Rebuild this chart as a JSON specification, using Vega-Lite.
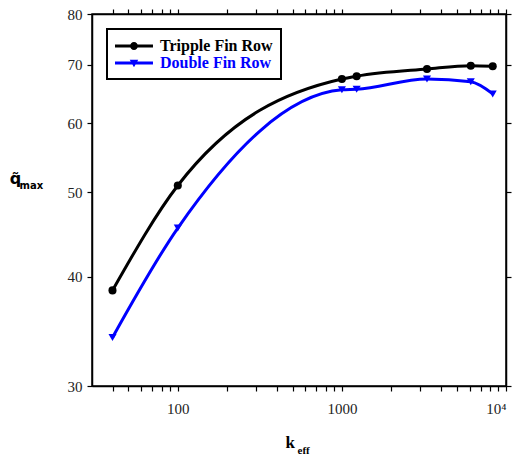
{
  "$schema": "https://vega.github.io/schema/vega-lite/v6.json",
  "width": 414,
  "height": 372,
  "autosize": {"type": "none"},
  "padding": {"left": 92, "top": 14, "right": 10, "bottom": 71},
  "background": "white",
  "config": {
    "view": {"stroke": "black", "strokeWidth": 1.5},
    "axis": {
      "grid": false,
      "domainColor": "black",
      "domainWidth": 1.5,
      "tickColor": "black",
      "tickWidth": 1.2,
      "tickSize": 5,
      "zindex": 1,
      "labelFont": "Liberation Serif",
      "labelFontSize": 15,
      "labelColor": "#222222",
      "titleColor": "black"
    },
    "legend": {
      "orient": "top-left",
      "offset": 15,
      "strokeColor": "black",
      "fillColor": "white",
      "padding": 8,
      "labelFont": "Liberation Serif",
      "labelFontSize": 16,
      "labelFontWeight": "bold",
      "symbolSize": 324,
      "symbolStrokeWidth": 0,
      "labelOffset": 27,
      "rowPadding": 0
    }
  },
  "data": {
    "values": [
      {"k": 40, "q": 38.6, "series": "Tripple Fin Row"},
      {"k": 100, "q": 50.9, "series": "Tripple Fin Row"},
      {"k": 1000, "q": 67.4, "series": "Tripple Fin Row"},
      {"k": 1230, "q": 67.9, "series": "Tripple Fin Row"},
      {"k": 3300, "q": 69.2, "series": "Tripple Fin Row"},
      {"k": 6100, "q": 69.8, "series": "Tripple Fin Row"},
      {"k": 8300, "q": 69.7, "series": "Tripple Fin Row"},
      {"k": 40, "q": 34.1, "series": "Double Fin Row"},
      {"k": 100, "q": 45.5, "series": "Double Fin Row"},
      {"k": 1000, "q": 65.5, "series": "Double Fin Row"},
      {"k": 1230, "q": 65.6, "series": "Double Fin Row"},
      {"k": 3300, "q": 67.4, "series": "Double Fin Row"},
      {"k": 6100, "q": 66.9, "series": "Double Fin Row"},
      {"k": 8300, "q": 64.8, "series": "Double Fin Row"}
    ]
  },
  "layer": [
    {
      "mark": {"type": "line", "interpolate": "monotone", "strokeWidth": 3},
      "encoding": {
        "x": {
          "field": "k", "type": "quantitative",
          "scale": {"type": "log", "domain": [30, 10000]},
          "axis": {
            "orient": "bottom",
            "values": [40,50,60,70,80,90,100,200,300,400,500,600,700,800,900,1000,2000,3000,4000,5000,6000,7000,8000,9000,10000],
            "labelExpr": "datum.value == 100 ? '100' : datum.value == 1000 ? '1000' : datum.value == 10000 ? '10⁴' : ''",
            "labelFont": "Liberation Serif",
            "labelPadding": 10,
            "encode": {"ticks": {"update": {"y2": {"signal": "(datum.value == 100 || datum.value == 1000 || datum.value == 10000) ? -8 : -4"}}}},
            "title": "k",
            "titleFont": "Liberation Serif",
            "titleFontWeight": "bold",
            "titleFontSize": 17,
            "titleAlign": "left",
            "titleBaseline": "alphabetic",
            "titleX": 193,
            "titleY": 61
          }
        },
        "y": {
          "field": "q", "type": "quantitative",
          "scale": {"type": "log", "domain": [30, 80]},
          "axis": {
            "orient": "left",
            "values": [30, 40, 50, 60, 70, 80],
            "format": "d",
            "labelFont": "Liberation Serif",
            "labelPadding": 5,
            "encode": {"ticks": {"update": {"x2": {"value": 6}}}},
            "title": "q̃",
            "titleFont": "DejaVu Sans",
            "titleFontWeight": "bold",
            "titleFontSize": 16,
            "titleAngle": 0,
            "titleAlign": "center",
            "titleBaseline": "alphabetic",
            "titleX": -77,
            "titleY": 169
          }
        },
        "color": {
          "field": "series", "type": "nominal",
          "scale": {"domain": ["Tripple Fin Row", "Double Fin Row"], "range": ["black", "#0000ff"]},
          "legend": {
            "title": null,
            "symbolType": "M-1,-0.17L3.22,-0.17L3.22,0.17L-1,0.17Z M1.55,0A0.44,0.44,0,1,1,0.67,0A0.44,0.44,0,1,1,1.55,0Z",
            "encode": {
              "legend": {"update": {"strokeWidth": {"value": 2}}},
              "symbols": {
                "update": {
                  "shape": {"signal": "datum.value === 'Tripple Fin Row' ? 'M-1,-0.17L3.22,-0.17L3.22,0.17L-1,0.17Z M1.55,0A0.44,0.44,0,1,1,0.67,0A0.44,0.44,0,1,1,1.55,0Z' : 'M-1,-0.17L3.22,-0.17L3.22,0.17L-1,0.17Z M0.64,-0.36L1.58,-0.36L1.11,0.46Z'"},
                  "fill": {"signal": "datum.value === 'Tripple Fin Row' ? 'black' : '#0000ff'"},
                  "stroke": {"value": "transparent"},
                  "strokeWidth": {"value": 0},
                  "opacity": {"value": 1}
                }
              },
              "labels": {
                "update": {
                  "fill": {"signal": "datum.value === 'Tripple Fin Row' ? 'black' : '#0000ff'"}
                }
              }
            }
          }
        }
      }
    },
    {
      "transform": [{"filter": "datum.series === 'Tripple Fin Row'"}],
      "mark": {"type": "point", "filled": true, "size": 65, "opacity": 1, "shape": "circle", "color": "black"},
      "encoding": {
        "x": {
          "field": "k", "type": "quantitative",
          "scale": {"type": "log", "domain": [30, 10000]},
          "axis": {
            "orient": "top",
            "values": [40,50,60,70,80,90,100,200,300,400,500,600,700,800,900,1000,2000,3000,4000,5000,6000,7000,8000,9000,10000],
            "labels": false,
            "encode": {"ticks": {"update": {"y2": {"signal": "(datum.value == 100 || datum.value == 1000 || datum.value == 10000) ? 8 : 4"}}}},
            "title": "eff",
            "titleFont": "Liberation Serif",
            "titleFontWeight": "bold",
            "titleFontSize": 11,
            "titleAlign": "left",
            "titleBaseline": "alphabetic",
            "titleX": 205,
            "titleY": 439
          }
        },
        "y": {
          "field": "q", "type": "quantitative",
          "scale": {"type": "log", "domain": [30, 80]},
          "axis": {
            "orient": "right",
            "values": [30, 40, 50, 60, 70, 80],
            "labels": false,
            "encode": {"ticks": {"update": {"x2": {"value": -6}}}},
            "title": "max",
            "titleFont": "DejaVu Sans",
            "titleFontWeight": "bold",
            "titleFontSize": 10,
            "titleAngle": 0,
            "titleAlign": "left",
            "titleBaseline": "alphabetic",
            "titleX": -487,
            "titleY": 174
          }
        }
      }
    },
    {
      "transform": [{"filter": "datum.series === 'Double Fin Row'"}],
      "mark": {"type": "point", "filled": true, "size": 65, "opacity": 1, "shape": "triangle-down", "color": "#0000ff"},
      "encoding": {
        "x": {"field": "k", "type": "quantitative", "scale": {"type": "log", "domain": [30, 10000]}, "axis": null},
        "y": {"field": "q", "type": "quantitative", "scale": {"type": "log", "domain": [30, 80]}, "axis": null}
      }
    }
  ],
  "resolve": {"axis": {"x": "independent", "y": "independent"}}
}
